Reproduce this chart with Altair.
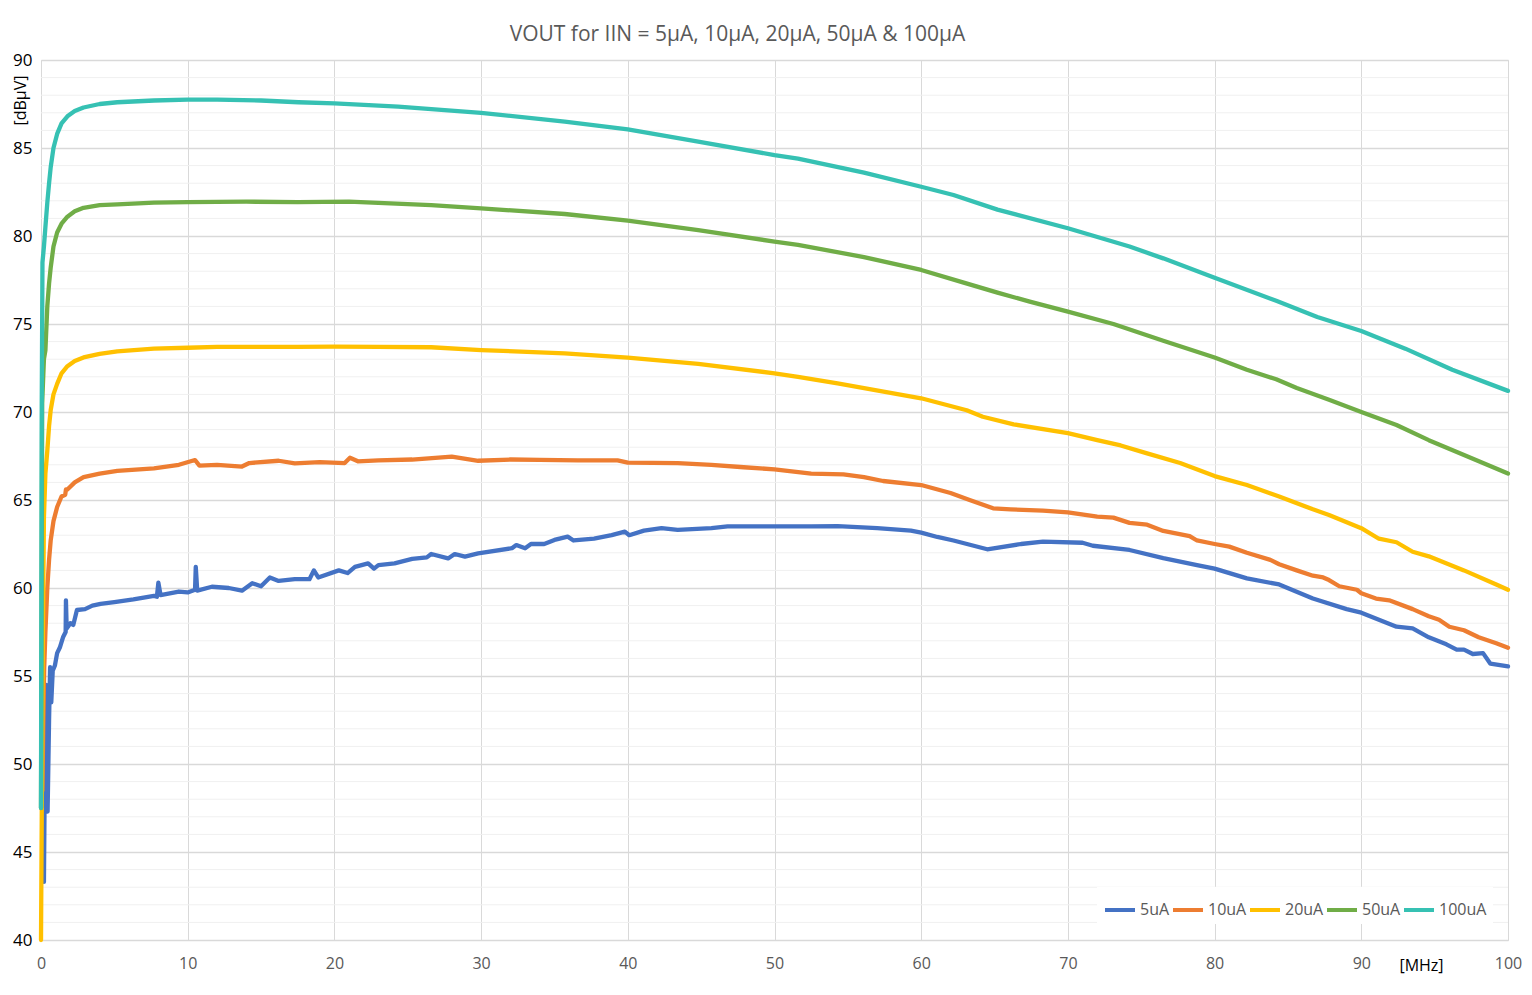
import altair as alt
import pandas as pd

# ---------------- data ----------------
series_names = ["5uA", "10uA", "20uA", "50uA", "100uA"]
series_colors = ["#4472C4", "#ED7D31", "#FFC000", "#70AD47", "#36C1B3"]

f_5uA = [0.2, 0.27, 0.35, 0.45, 0.55, 0.62, 0.7, 0.8, 0.95, 1.1, 1.3, 1.5, 1.68, 1.7, 1.75, 2.0, 2.2, 2.45, 3.0,
         3.5, 4.06, 5.0, 6.3, 7.7, 7.9, 8.0, 8.15, 9.4, 10.0, 10.5, 10.55, 10.65, 11.65, 12.8, 13.7, 14.4, 15.0,
         15.6, 16.2, 17.3, 18.3, 18.6, 18.9, 20.3, 20.9, 21.4, 22.3, 22.7, 23.0, 24.1, 25.3, 26.3, 26.6, 27.75,
         28.2, 28.9, 29.8, 32.1, 32.4, 33.0, 33.4, 34.3, 35.0, 35.9, 36.3, 37.7, 38.9, 39.8, 40.1, 41.1, 42.3,
         43.4, 45.7, 46.8, 50.0, 52.5, 54.3, 57.0, 59.3, 60.0, 61.1, 62.2, 64.5, 66.8, 68.3, 71.0, 71.7, 74.2,
         76.5, 78.8, 80.0, 82.2, 84.4, 86.7, 89.0, 90.0, 91.2, 92.4, 93.5, 94.6, 95.8, 96.5, 97.0, 97.6, 98.3,
         98.8, 100.0]
v_5uA = [43.3, 50.5, 54.5, 47.3, 52.5, 55.5, 53.5, 55.3, 55.6, 56.3, 56.65, 57.2, 57.5, 59.3, 57.7, 58.0, 57.9,
         58.75, 58.8, 59.0, 59.1, 59.2, 59.35, 59.55, 59.5, 60.3, 59.6, 59.8, 59.75, 59.9, 61.2, 59.85, 60.07,
         60.0, 59.85, 60.27, 60.1, 60.6, 60.4, 60.5, 60.5, 61.0, 60.6, 61.0, 60.85, 61.2, 61.4, 61.1, 61.3, 61.4,
         61.65, 61.74, 61.93, 61.68, 61.93, 61.78, 61.97, 62.26, 62.44, 62.26, 62.5, 62.5, 62.73, 62.92, 62.7,
         62.8, 63.0, 63.2, 63.0, 63.26, 63.4, 63.3, 63.4, 63.5, 63.5, 63.5, 63.52, 63.4, 63.26, 63.15, 62.9,
         62.7, 62.2, 62.5, 62.63, 62.57, 62.4, 62.16, 61.7, 61.3, 61.1, 60.55, 60.2, 59.4, 58.8, 58.6, 58.2,
         57.8, 57.7, 57.2, 56.8, 56.5, 56.5, 56.25, 56.3, 55.7, 55.55]

f_10uA = [0.1, 0.15, 0.22, 0.3, 0.43, 0.55, 0.66, 0.85, 1.1, 1.4, 1.65, 1.7, 1.8, 2.3, 2.9, 4.0, 5.2, 7.7, 9.4,
          10.5, 10.8, 12.0, 13.7, 14.2, 16.2, 17.3, 19.0, 20.7, 21.06, 21.6, 23.0, 25.3, 28.0, 29.8, 32.0, 34.0,
          36.6, 39.3, 40.0, 43.4, 45.7, 47.9, 50.0, 52.5, 54.7, 56.1, 57.4, 60.0, 62.0, 63.3, 64.9, 66.1, 68.3,
          70.0, 72.0, 73.1, 74.2, 75.4, 76.5, 78.3, 78.8, 80.0, 81.0, 82.2, 83.8, 84.4, 85.6, 86.7, 87.4, 87.8,
          88.5, 89.7, 90.0, 91.0, 91.9, 93.5, 94.6, 95.3, 96.0, 97.0, 98.0, 99.2, 100.0]
v_10uA = [48.5, 52.0, 55.5, 57.5, 60.0, 61.6, 62.7, 63.8, 64.6, 65.2, 65.3, 65.6, 65.6, 66.0, 66.3, 66.5, 66.65,
          66.8, 67.0, 67.27, 66.95, 67.0, 66.9, 67.1, 67.23, 67.08, 67.15, 67.1, 67.4, 67.2, 67.25, 67.3, 67.46,
          67.23, 67.3, 67.28, 67.25, 67.25, 67.12, 67.1, 67.0, 66.86, 66.74, 66.5, 66.46, 66.3, 66.08, 65.85,
          65.4, 65.0, 64.53, 64.47, 64.4, 64.3, 64.05, 64.0, 63.7, 63.6, 63.24, 62.95, 62.7, 62.5, 62.35, 62.0,
          61.6, 61.35, 61.0, 60.7, 60.6, 60.45, 60.1, 59.9, 59.7, 59.4, 59.3, 58.8, 58.4, 58.2, 57.8, 57.6,
          57.2, 56.86, 56.6]

f_20uA = [0.0, 0.05, 0.12, 0.2, 0.3, 0.43, 0.55, 0.66, 0.85, 1.1, 1.4, 1.8, 2.3, 2.9, 4.0, 5.2, 7.7, 10.0, 12.0,
          15.0, 17.5, 20.0, 23.0, 26.6, 30.0, 35.7, 40.0, 44.8, 50.0, 51.6, 54.3, 60.0, 63.1, 64.2, 66.3, 70.0,
          72.0, 73.6, 75.4, 77.65, 80.0, 82.2, 84.4, 86.7, 87.8, 90.0, 91.2, 92.4, 93.5, 94.6, 97.0, 99.2, 100.0]
v_20uA = [40.0, 47.0, 56.5, 64.0, 66.5, 67.8, 69.2, 70.1, 71.0, 71.6, 72.2, 72.6, 72.9, 73.1, 73.3, 73.45, 73.6,
          73.65, 73.7, 73.7, 73.7, 73.72, 73.7, 73.68, 73.52, 73.33, 73.09, 72.73, 72.2, 72.0, 71.63, 70.78,
          70.1, 69.73, 69.3, 68.8, 68.4, 68.1, 67.65, 67.1, 66.36, 65.85, 65.2, 64.47, 64.15, 63.4, 62.8, 62.6,
          62.06, 61.8, 61.0, 60.2, 59.9]

f_50uA = [0.0, 0.08, 0.2, 0.3, 0.43, 0.55, 0.66, 0.85, 1.1, 1.4, 1.8, 2.3, 2.9, 4.0, 5.2, 7.7, 10.0, 14.0, 17.5,
          21.0, 26.6, 30.0, 35.7, 40.0, 44.8, 50.0, 51.6, 56.1, 60.0, 62.9, 65.2, 67.4, 70.0, 73.1, 76.5, 80.0,
          82.2, 84.2, 85.6, 87.8, 90.0, 92.4, 94.6, 97.0, 100.0]
v_50uA = [47.5, 70.5, 73.0, 73.5, 76.0, 77.3, 78.2, 79.4, 80.2, 80.7, 81.1, 81.4, 81.6, 81.75, 81.8, 81.9, 81.92,
          81.95, 81.93, 81.95, 81.76, 81.57, 81.25, 80.87, 80.34, 79.68, 79.5, 78.8, 78.07, 77.35, 76.78, 76.27,
          75.7, 75.0, 74.05, 73.1, 72.4, 71.86, 71.36, 70.7, 70.0, 69.26, 68.4, 67.56, 66.5]

f_100uA = [0.0, 0.05, 0.1, 0.2, 0.3, 0.43, 0.55, 0.66, 0.85, 1.1, 1.4, 1.8, 2.3, 2.9, 4.0, 5.2, 7.7, 10.0, 12.0,
           15.0, 17.55, 20.0, 24.35, 30.0, 35.7, 40.0, 44.8, 50.0, 51.6, 56.1, 60.0, 62.2, 65.2, 70.0, 74.2, 76.5,
           80.0, 84.2, 87.0, 90.0, 93.0, 96.2, 100.0]
v_100uA = [47.5, 70.5, 78.5, 79.4, 80.5, 81.9, 83.0, 83.9, 85.0, 85.8, 86.4, 86.8, 87.1, 87.3, 87.5, 87.6, 87.7,
           87.75, 87.75, 87.7, 87.6, 87.54, 87.35, 87.0, 86.5, 86.06, 85.36, 84.6, 84.4, 83.6, 82.8, 82.33, 81.5,
           80.44, 79.4, 78.73, 77.63, 76.32, 75.4, 74.6, 73.6, 72.4, 71.2]

x_ticks = [0, 10, 20, 30, 40, 50, 60, 70, 80, 90, 100]
y_ticks = [40, 45, 50, 55, 60, 65, 70, 75, 80, 85, 90]
y_minor = [v for v in range(40, 91) if v % 5 != 0]

title_text = "VOUT for IIN = 5µA, 10µA, 20µA, 50µA & 100µA"

# ---------------- build tables ----------------
rows = []
for name, fs, vs in [("5uA", f_5uA, v_5uA), ("10uA", f_10uA, v_10uA), ("20uA", f_20uA, v_20uA),
                     ("50uA", f_50uA, v_50uA), ("100uA", f_100uA, v_100uA)]:
    for f, v in zip(fs, vs):
        rows.append({"series": name, "f": f, "v": v})
df = pd.DataFrame(rows)
minor_df = pd.DataFrame({"y": y_minor})

FONT = "Open Sans"

x_scale = alt.Scale(domain=[0, 100], nice=False, zero=False)
y_scale = alt.Scale(domain=[40, 90], nice=False, zero=False)

x_axis = alt.Axis(values=x_ticks, grid=True, gridColor="#D9D9D9", gridWidth=1, domain=False, ticks=False,
                  labelColor="#595959", labelFontSize=16, labelFont=FONT, labelPadding=15,
                  title="[MHz]", titleFont=FONT, titleFontSize=16, titleFontWeight="normal",
                  titleColor="#000000", titleX=1380, titleY=25, titleAlign="center",
                  titleBaseline="middle", labelFlush=False)
y_axis = alt.Axis(values=y_ticks, grid=True, gridColor="#D9D9D9", gridWidth=1.6, domain=False, ticks=False,
                  labelColor="#000000", labelFontSize=17, labelFont=FONT, labelPadding=9,
                  title="[dBµV]", titleFont=FONT, titleFontSize=16, titleFontWeight="normal",
                  titleColor="#000000", titleX=-21, titleY=15, titleAngle=-90, titleAlign="right",
                  titleBaseline="middle", labelFlush=False)

minor = alt.Chart(minor_df).mark_rule(color="#F0F0F0", strokeWidth=1).encode(
    y=alt.Y("y:Q", scale=y_scale, axis=y_axis)
)

lines = alt.Chart(df).mark_line(strokeWidth=4.3, strokeJoin="round", strokeCap="round").encode(
    x=alt.X("f:Q", scale=x_scale, axis=x_axis),
    y=alt.Y("v:Q", scale=y_scale, axis=y_axis),
    color=alt.Color("series:N", sort=series_names,
                    scale=alt.Scale(domain=series_names, range=series_colors),
                    legend=alt.Legend(title=None, orient="none", direction="horizontal",
                                      legendX=1056, legendY=827, symbolType="stroke",
                                      symbolSize=900, symbolStrokeWidth=4, labelFontSize=16,
                                      labelFont=FONT, labelColor="#595959", labelOffset=3,
                                      columnPadding=-5, fillColor="#FFFFFF", padding=6)),
    order=alt.Order("f:Q"),
)

chart = alt.layer(minor, lines).properties(
    width=1467, height=880,
    title=alt.TitleParams(title_text, fontSize=21, color="#595959", font=FONT, fontWeight="normal",
                          anchor="middle", dx=-37, offset=6),
    padding={"left": 33, "top": 52, "right": 16, "bottom": 38},
    autosize=alt.AutoSizeParams(type="none"),
).configure_view(stroke=None).configure(font=FONT)

chart.save("out.html", embed_options={"renderer": "svg", "actions": False})
